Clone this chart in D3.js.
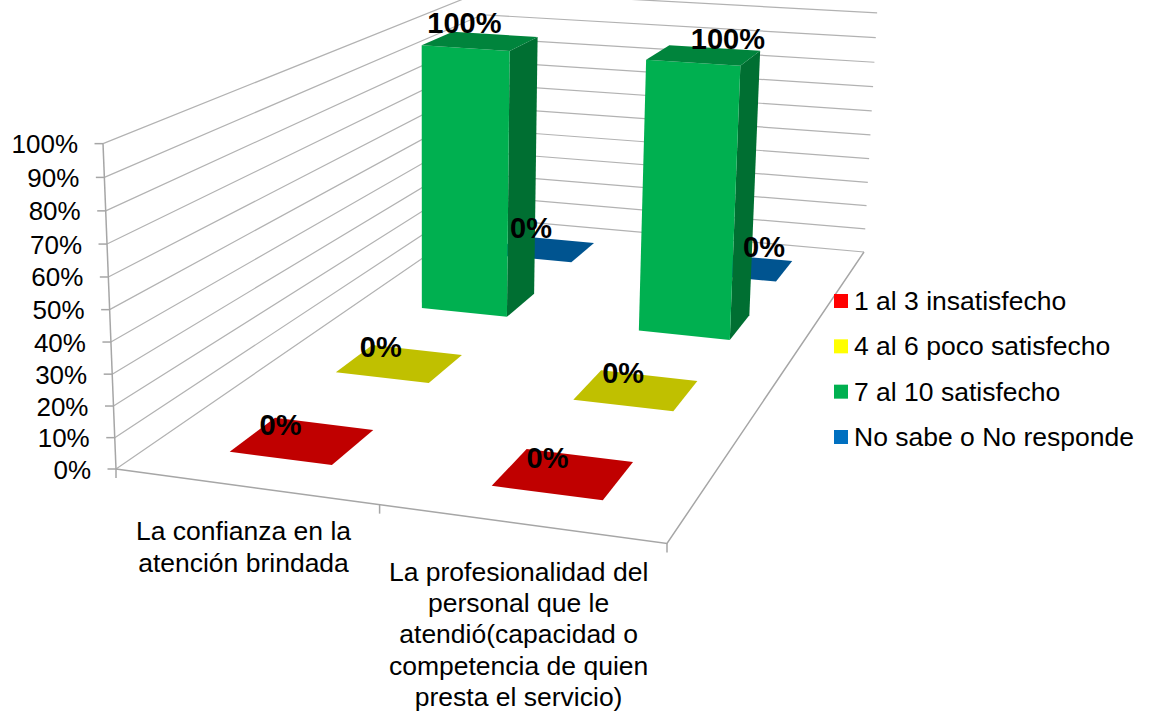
<!DOCTYPE html>
<html>
<head>
<meta charset="utf-8">
<script src="https://cdn.jsdelivr.net/npm/d3@7"></script>
<style>
  body { margin: 0; background: #fff; }
  text { font-family: "Liberation Sans", Arial, sans-serif; fill: #000; }
</style>
</head>
<body>
<div id="chart"></div>
<script>
(function() {
  "use strict";

  var categories = ["La confianza en la atención brindada", "La profesionalidad del personal que le atendió(capacidad o competencia de quien presta el servicio)"];
  var categoryLines = [
    ["La confianza en la", "atención brindada"],
    ["La profesionalidad del", "personal que le", "atendió(capacidad o", "competencia de quien", "presta el servicio)"]
  ];
  var seriesNames = ["1 al 3 insatisfecho", "4 al 6 poco satisfecho", "7 al 10 satisfecho", "No sabe o No responde"];
  var seriesColors = ["#ff0000", "#ffff00", "#00b050", "#0070c0"];
  var insatisfecho = [0, 0];
  var pocoSatisfecho = [0, 0];
  var satisfecho = [1, 1];
  var noResponde = [0, 0];
  var seriesValues = [insatisfecho, pocoSatisfecho, satisfecho, noResponde];
  // labels were hand moved in the original, so each one has its own nudge
  var labelNudge = [
    [[-22, -16], [-16, -16]],
    [[-19, -17], [-13, -17]],
    [[-16, -18], [24, -16]],
    [[-13, -21], [21, -20]]
  ];
  var categoryDrop = [54, 57];

  var width = 1153;
  var height = 713;
  var floorCorners = [[116, 469], [667, 543.5], [864, 252], [481, 218]]; // front left, front right, back right, back left
  var verticalVanish = [426, 8234];
  var heightFactor = 0.0419;
  var heightBend = 0.04; // ticks get a little closer towards the floor

  var gridColor = "#b2b2b2";
  var axisColor = "#a6a6a6";

  // floor homography, unit square to the four corners
  var p0 = floorCorners[0], p1 = floorCorners[1], p2 = floorCorners[2], p3 = floorCorners[3];
  var dx1 = p1[0] - p2[0], dy1 = p1[1] - p2[1];
  var dx2 = p3[0] - p2[0], dy2 = p3[1] - p2[1];
  var sx = p0[0] - p1[0] + p2[0] - p3[0], sy = p0[1] - p1[1] + p2[1] - p3[1];
  var det = dx1 * dy2 - dx2 * dy1;
  var g = (sx * dy2 - dx2 * sy) / det;
  var h = (dx1 * sy - sx * dy1) / det;

  function project(u, v, w) {
    var q = 1 + g * u + h * v;
    var x = ((p1[0] - p0[0] + g * p1[0]) * u + (p3[0] - p0[0] + h * p3[0]) * v + p0[0]) / q;
    var y = ((p1[1] - p0[1] + g * p1[1]) * u + (p3[1] - p0[1] + h * p3[1]) * v + p0[1]) / q;
    var k = (w * (1 - heightBend) / (1 - heightBend * w)) * heightFactor / q;
    return [x + k * (x - verticalVanish[0]), y + k * (y - verticalVanish[1])];
  }

  var uScale = d3.scaleBand().domain(categories).range([0, 1]).paddingInner(0.6).paddingOuter(0.3);
  var vScale = d3.scaleBand().domain(seriesNames).range([0, 1]).paddingInner(0.6).paddingOuter(0.3);
  var wScale = d3.scaleLinear().domain([0, 1]).range([0, 1]);
  var tickValues = wScale.ticks(10);
  var percent = d3.format(".0%");
  var line = d3.line();

  var svg = d3.select("#chart")
    .append("svg")
    .attr("width", width)
    .attr("height", height)
    .style("display", "block");

  // gridlines on the side wall and the back wall
  svg.selectAll(".grid")
    .data(tickValues)
    .enter().append("path")
    .attr("class", "grid")
    .attr("d", function(d) {
      return line([project(0, 0, wScale(d)), project(0, 1, wScale(d)), project(1, 1, wScale(d))]);
    })
    .attr("fill", "none")
    .attr("stroke", gridColor)
    .attr("stroke-width", 1.2);

  // value axis
  svg.append("path")
    .attr("d", line([project(0, 0, 0), project(0, 0, 1)]))
    .attr("stroke", axisColor)
    .attr("stroke-width", 1.5);

  svg.selectAll(".ytick")
    .data(tickValues)
    .enter().append("line")
    .attr("class", "ytick")
    .attr("x1", function(d) { return project(0, 0, wScale(d))[0]; })
    .attr("x2", function(d) { return project(0, 0, wScale(d))[0] - 8.5; })
    .attr("y1", function(d) { return project(0, 0, wScale(d))[1]; })
    .attr("y2", function(d) { return project(0, 0, wScale(d))[1]; })
    .attr("stroke", axisColor)
    .attr("stroke-width", 1.5);

  svg.selectAll(".ylabel")
    .data(tickValues)
    .enter().append("text")
    .attr("class", "ylabel")
    .attr("x", function(d) { return project(0, 0, wScale(d))[0] - 25; })
    .attr("y", function(d) { return project(0, 0, wScale(d))[1] + 9.5; })
    .attr("text-anchor", "end")
    .attr("font-size", 26)
    .text(percent);

  // floor edges
  svg.append("path")
    .attr("d", line([project(0, 0, 0), project(1, 0, 0), project(1, 1, 0)]))
    .attr("fill", "none")
    .attr("stroke", axisColor)
    .attr("stroke-width", 1.5);

  svg.selectAll(".xtick")
    .data([0, 0.5, 1])
    .enter().append("line")
    .attr("class", "xtick")
    .attr("x1", function(d) { return project(d, 0, 0)[0]; })
    .attr("x2", function(d) { return project(d, 0, 0)[0]; })
    .attr("y1", function(d) { return project(d, 0, 0)[1]; })
    .attr("y2", function(d) { return project(d, 0, 0)[1] + 9; })
    .attr("stroke", axisColor)
    .attr("stroke-width", 1.5);

  var catLabels = svg.selectAll(".catLabel")
    .data(categories)
    .enter().append("text")
    .attr("class", "catLabel")
    .attr("text-anchor", "middle")
    .attr("font-size", 26.5);

  catLabels.each(function(d, i) {
    var u = uScale(d) + uScale.bandwidth() / 2;
    var base = project(u, 0, 0);
    d3.select(this).selectAll("tspan")
      .data(categoryLines[i])
      .enter().append("tspan")
      .attr("x", base[0] - 1.5)
      .attr("y", function(t, n) { return base[1] + categoryDrop[i] + n * 31.3; })
      .text(function(t) { return t; });
  });

  // bars, back row first
  var cells = [];
  seriesNames.forEach(function(name, s) {
    categories.forEach(function(cat, c) {
      cells.push({ s: s, c: c, u0: uScale(cat), v0: vScale(name), value: seriesValues[s][c] });
    });
  });
  cells.sort(function(a, b) { return b.s - a.s || a.c - b.c; });

  var bars = svg.selectAll(".bar")
    .data(cells)
    .enter().append("g")
    .attr("class", "bar");

  bars.append("path") // right side
    .attr("d", function(d) {
      var u1 = d.u0 + uScale.bandwidth(), v1 = d.v0 + vScale.bandwidth(), w = wScale(d.value);
      return line([project(u1, d.v0, 0), project(u1, v1, 0), project(u1, v1, w), project(u1, d.v0, w)]) + "Z";
    })
    .attr("fill", function(d) { return d3.rgb(seriesColors[d.s]).darker(1.3); });

  bars.append("path") // front
    .attr("d", function(d) {
      var u1 = d.u0 + uScale.bandwidth(), w = wScale(d.value);
      return line([project(d.u0, d.v0, 0), project(u1, d.v0, 0), project(u1, d.v0, w), project(d.u0, d.v0, w)]) + "Z";
    })
    .attr("fill", function(d) { return seriesColors[d.s]; });

  bars.append("path") // top, the only face left when the value is zero
    .attr("d", function(d) {
      var u1 = d.u0 + uScale.bandwidth(), v1 = d.v0 + vScale.bandwidth(), w = wScale(d.value);
      return line([project(d.u0, d.v0, w), project(u1, d.v0, w), project(u1, v1, w), project(d.u0, v1, w)]) + "Z";
    })
    .attr("fill", function(d) { return d3.rgb(seriesColors[d.s]).darker(0.8); });

  svg.selectAll(".valueLabel")
    .data(cells)
    .enter().append("text")
    .attr("class", "valueLabel")
    .attr("x", function(d) {
      return project(d.u0 + uScale.bandwidth() / 2, d.v0 + vScale.bandwidth() / 2, wScale(d.value))[0] + labelNudge[d.s][d.c][0];
    })
    .attr("y", function(d) {
      return project(d.u0 + uScale.bandwidth() / 2, d.v0 + vScale.bandwidth() / 2, wScale(d.value))[1] + labelNudge[d.s][d.c][1] + 10;
    })
    .attr("text-anchor", "middle")
    .attr("font-size", 29)
    .attr("font-weight", "bold")
    .text(function(d) { return percent(d.value); });

  // legend
  var legendY = d3.scalePoint().domain(seriesNames).range([301, 437]);

  var legend = svg.selectAll(".legend")
    .data(seriesNames)
    .enter().append("g")
    .attr("class", "legend")
    .attr("transform", function(d) { return "translate(834," + legendY(d) + ")"; });

  legend.append("rect")
    .attr("y", -7)
    .attr("width", 14)
    .attr("height", 14)
    .attr("fill", function(d, i) { return seriesColors[i]; });

  legend.append("text")
    .attr("x", 20)
    .attr("y", 9)
    .attr("font-size", 26.5)
    .text(function(d) { return d; });
})();
</script>
</body>
</html>
